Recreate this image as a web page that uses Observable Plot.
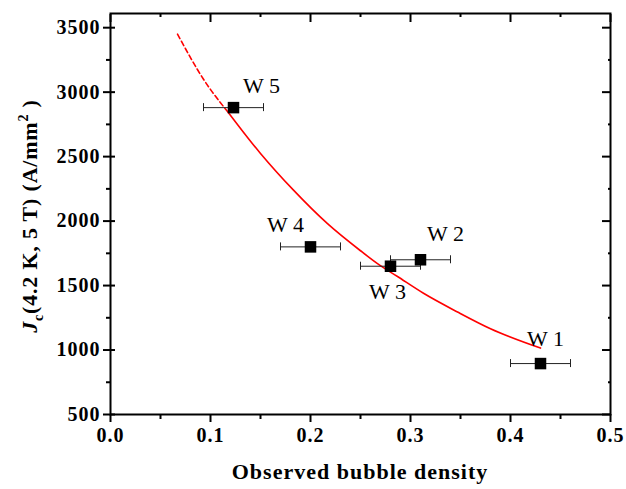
<!DOCTYPE html>
<html>
<head>
<meta charset="utf-8">
<script src="https://cdn.jsdelivr.net/npm/d3@7"></script>
<script src="https://cdn.jsdelivr.net/npm/@observablehq/plot@0.6"></script>
<style>
  html, body { margin: 0; padding: 0; background: white; }
  #chart { width: 626px; height: 489px; }
</style>
</head>
<body>
<div id="chart"></div>
<script>
// Samples
const sampleNames = ["W1", "W2", "W3", "W4", "W5"];
const sampleLabels = ["W 1", "W 2", "W 3", "W 4", "W 5"];
const bubbleDensity = [0.43, 0.31, 0.28, 0.20, 0.123];
const densityError = [0.03, 0.03, 0.03, 0.03, 0.03];
const jcValues = [895, 1700, 1650, 1800, 2880];

// Fitted curve: dashed extrapolation then solid fit
const fitDashedX = [0.067, 0.093, 0.118];
const fitDashedY = [3450, 3100, 2840];
const fitSolidX = [0.118, 0.142, 0.150, 0.183, 0.217, 0.250, 0.267, 0.287, 0.313, 0.347, 0.380, 0.430];
const fitSolidY = [2840, 2600, 2525, 2240, 1980, 1770, 1670, 1570, 1440, 1295, 1165, 1015];

// Ticks
const xMajor = [0, 0.1, 0.2, 0.3, 0.4, 0.5];
const xMinor = [0.05, 0.15, 0.25, 0.35, 0.45];
const yMajor = [500, 1000, 1500, 2000, 2500, 3000, 3500];
const yMinor = [750, 1250, 1750, 2250, 2750, 3250];

const points = sampleNames.map((n, i) => ({
  name: n, label: sampleLabels[i], x: bubbleDensity[i], y: jcValues[i], err: densityError[i]
}));
const dashed = fitDashedX.map((x, i) => ({x, y: fitDashedY[i]}));
const solid = fitSolidX.map((x, i) => ({x, y: fitSolidY[i]}));

const labelOffset = {W1: [5, -25], W2: [25, -26], W3: [-3, 26], W4: [-25, -22], W5: [28, -22]};
const labelMarks = sampleNames.map(n => Plot.text(points.filter(d => d.name === n), {
  x: "x", y: "y", text: "label", dx: labelOffset[n][0], dy: labelOffset[n][1],
  fontSize: 22, fontWeight: "normal", fill: "black"
}));

const chart = Plot.plot({
  width: 626,
  height: 489,
  marginLeft: 110,
  marginRight: 16,
  marginTop: 13,
  marginBottom: 75,
  style: {fontFamily: "'Liberation Serif', 'Times New Roman', serif", fontSize: "20px", fontWeight: "bold", color: "black", background: "white"},
  x: {domain: [0, 0.5]},
  y: {domain: [500, 3610]},
  marks: [
    // bottom axis
    Plot.axisX({anchor: "bottom", ticks: xMajor, tickFormat: d3.format(".1f"), tickSize: 8, tickPadding: 5, strokeWidth: 2, label: null, fontSize: 20}),
    Plot.axisX({anchor: "bottom", ticks: xMinor, tickFormat: () => "", tickSize: 5, strokeWidth: 2, label: null}),
    // top axis (inward)
    Plot.axisX({anchor: "top", ticks: xMajor, tickFormat: () => "", tickSize: -8, strokeWidth: 2, label: null}),
    Plot.axisX({anchor: "top", ticks: xMinor, tickFormat: () => "", tickSize: -3, strokeWidth: 2, label: null}),
    // left axis
    Plot.axisY({anchor: "left", ticks: yMajor, tickFormat: d3.format("d"), tickSize: 7, tickPadding: 3, strokeWidth: 2, label: null, fontSize: 20}),
    Plot.axisY({anchor: "left", ticks: yMajor, tickFormat: () => "", tickSize: -5, strokeWidth: 2, label: null}),
    Plot.axisY({anchor: "left", ticks: yMinor, tickFormat: () => "", tickSize: 4, strokeWidth: 2, label: null}),
    // right axis (inward)
    Plot.axisY({anchor: "right", ticks: yMajor, tickFormat: () => "", tickSize: -9, strokeWidth: 2, label: null}),
    Plot.axisY({anchor: "right", ticks: yMinor, tickFormat: () => "", tickSize: -3, strokeWidth: 2, label: null}),
    Plot.frame({stroke: "black", strokeWidth: 2}),
    // fit curve
    Plot.line(dashed, {x: "x", y: "y", stroke: "red", strokeWidth: 1.6, strokeDasharray: "5,3", curve: "monotone-x"}),
    Plot.line(solid, {x: "x", y: "y", stroke: "red", strokeWidth: 1.6, curve: "monotone-x"}),
    // error bars
    Plot.ruleY(points, {y: "y", x1: d => d.x - d.err, x2: d => d.x + d.err, stroke: "#222", strokeWidth: 1}),
    Plot.ruleX(points, {x: d => d.x - d.err, y1: "y", y2: "y", insetTop: -4, insetBottom: -4, stroke: "#222", strokeWidth: 1}),
    Plot.ruleX(points, {x: d => d.x + d.err, y1: "y", y2: "y", insetTop: -4, insetBottom: -4, stroke: "#222", strokeWidth: 1}),
    // markers
    Plot.dot(points, {x: "x", y: "y", symbol: "square", r: 6.5, fill: "black", stroke: "none"}),
    // labels
    ...labelMarks
  ]
});

document.getElementById("chart").appendChild(chart);

// tick labels slightly spaced
d3.select(chart).selectAll("g[aria-label='x-axis tick label'] text, g[aria-label='y-axis tick label'] text")
  .style("letter-spacing", "1px");

// Axis titles with rich text
const svg = d3.select(chart);
svg.append("text")
  .attr("x", 360).attr("y", 479)
  .attr("text-anchor", "middle")
  .style("font-family", "'Liberation Serif', serif")
  .style("font-size", "22px").style("font-weight", "bold").style("letter-spacing", "1px")
  .text("Observed bubble density");

const yl = svg.append("text")
  .attr("transform", "translate(37,216) rotate(-90)")
  .attr("text-anchor", "middle")
  .style("font-family", "'Liberation Serif', serif")
  .style("font-size", "22px").style("font-weight", "bold").style("letter-spacing", "0.8px");
yl.append("tspan").style("font-style", "italic").text("J");
yl.append("tspan").attr("dy", 6).style("font-size", "14px").text("c");
yl.append("tspan").attr("dy", -6).text("(4.2 K, 5 T) (A/mm");
yl.append("tspan").attr("dy", -9).style("font-size", "14px").text("2");
yl.append("tspan").attr("dy", 9).text(" )");
</script>
</body>
</html>
